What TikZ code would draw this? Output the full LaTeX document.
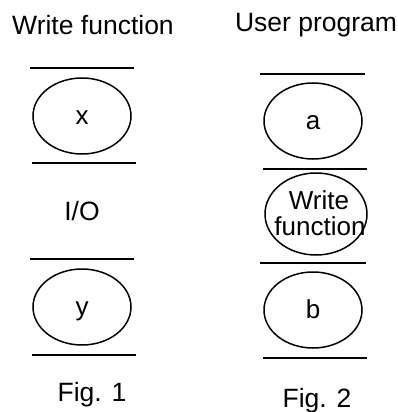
\documentclass[tikz,border=0pt]{standalone}
\usepackage{fontspec}
\setmainfont{Liberation Sans}
\usetikzlibrary{shapes.geometric}
\begin{document}
\begin{tikzpicture}[x=1pt,y=-1pt,
  every node/.style={font=\fontsize{26.5}{28}\selectfont},
  oval/.style={draw, ellipse, line width=1.5pt, inner sep=0pt,
    minimum width=98pt, minimum height=76pt,
    font=\fontsize{26}{28}\selectfont, text height=17pt, text depth=0pt},
  ovaltext/.style={anchor=base, inner sep=0pt,
    font=\fontsize{26}{28}\selectfont},
  bar/.style={line width=1.6pt}]
\useasboundingbox (0,0) rectangle (398,412);

% Fig. 1: write function
\node (t1) at (93,25) {Write function};
\draw[bar] (30,68) -- (134,68);
\node[oval] (x) at (82,116) {x};
\draw[bar] (32,163) -- (136,163);
\node (io) at (82,211) {I/O};
\draw[bar] (30,259) -- (134,259);
\node[oval] (y) at (82,307) {y};
\draw[bar] (32,355) -- (136,355);
\node (f1) at (92,395) {Fig. 1};

% Fig. 2: user program
\node (t2) at (316,25) {User program};
\draw[bar] (260,74) -- (365,74);
\node[oval] (a) at (313,121) {a};
\draw[bar] (263,169) -- (367,169);
\node[oval, minimum width=102pt, minimum height=82pt] (wf) at (316,214) {};
\node[ovaltext] (wf1) at (319,209) {Write};
\node[ovaltext] (wf2) at (320,235) {function};
\draw[bar] (260,263) -- (366,263);
\node[oval] (b) at (313,310) {b};
\draw[bar] (263,358) -- (367,358);
\node (f2) at (317,401) {Fig. 2};
\end{tikzpicture}
\end{document}
